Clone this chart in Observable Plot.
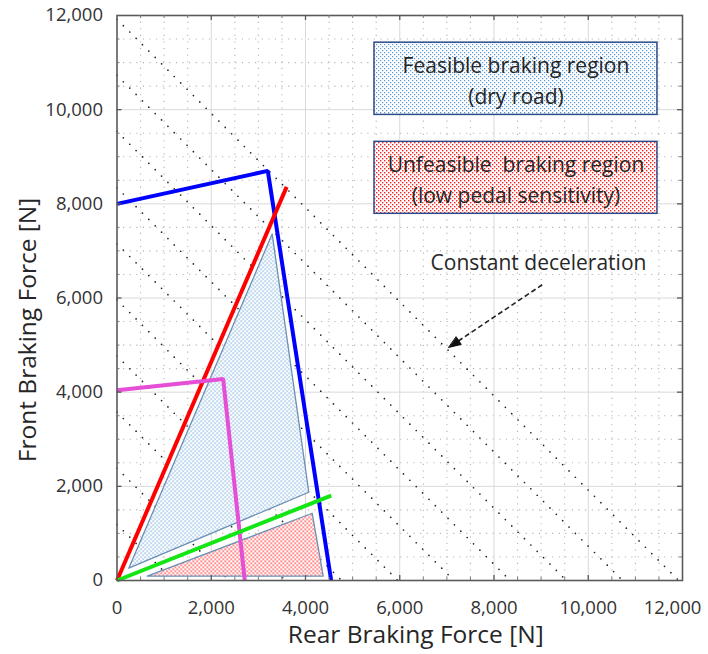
<!DOCTYPE html>
<html>
<head>
<meta charset="utf-8">
<script src="https://cdn.jsdelivr.net/npm/d3@7"></script>
<script src="https://cdn.jsdelivr.net/npm/@observablehq/plot@0.6"></script>
<style>
  body { margin: 0; background: #fff; }
  #chart svg text { white-space: pre; }
</style>
</head>
<body>
<svg width="0" height="0" style="position:absolute">
  <defs>
    <pattern id="dotsBlue" width="4" height="4" patternUnits="userSpaceOnUse">
      <rect width="4" height="4" fill="#ffffff"/>
      <rect x="0" y="0" width="1.25" height="1.25" fill="#5b9bd5"/>
      <rect x="2" y="2" width="1.25" height="1.25" fill="#5b9bd5"/>
    </pattern>
    <pattern id="dotsRed" width="4" height="4" patternUnits="userSpaceOnUse">
      <rect width="4" height="4" fill="#ffffff"/>
      <rect x="0" y="0" width="1.4" height="1.4" fill="#ff2020"/>
      <rect x="2" y="2" width="1.4" height="1.4" fill="#ff2020"/>
    </pattern>
  </defs>
</svg>
<div id="chart"></div>
<script>
// Axis ticks (N)
const axisTicks = [0, 2000, 4000, 6000, 8000, 10000, 12000];

// Constant-deceleration iso-lines: front + rear = total braking force (N)
const decelTotals = [1192, 2384, 3576, 4768, 5960, 7152, 8344, 9536, 10728, 11920];

// Brake-balance curves (rear force, front force)
const blueRear = [0, 3200, 4545];
const blueFront = [8000, 8700, 0];
const redRear = [0, 3600];
const redFront = [0, 8360];
const magentaRear = [0, 2253, 2711];
const magentaFront = [4040, 4280, 0];
const greenRear = [0, 4545];
const greenFront = [0, 1804];

// Regions
const feasibleRear = [250, 3293, 4070];
const feasibleFront = [261, 7357, 1874];
const unfeasibleRear = [641, 4142, 4376];
const unfeasibleFront = [91, 1428, 91];

// Legend boxes and their text
const boxLabels = ["Feasible braking region\n(dry road)", "Unfeasible  braking region\n(low pedal sensitivity)"];
const boxFills = ["url(#dotsBlue)", "url(#dotsRed)"];
const boxRear = [5464, 11469];
const boxFront = [[9889, 11423], [7788, 9316]];

// Annotation arrow
const noteText = "Constant deceleration";
const arrowFrom = [9023, 6281];
const arrowTo = [7041, 4951];

const W = 708, H = 654;
const mL = 116.5, mR = 26, mT = 15, mB = 74;
const unitsPerPx = 12000 / (W - mL - mR);
const thousands = d3.format(",");

const toPts = (rs, fs) => rs.map((r, i) => ({rear: r, front: fs[i]}));
const curves = [
  {pts: toPts(blueRear, blueFront), color: "#0000ff"},
  {pts: toPts(redRear, redFront), color: "#ff0000"},
  {pts: toPts(magentaRear, magentaFront), color: "#e44fd6"},
  {pts: toPts(greenRear, greenFront), color: "#14e614"}
];

const minorVals = d3.range(500, 12000, 500).filter(v => v % 2000 !== 0);
const majorInner = axisTicks.slice(1, -1);
const xLabelTicks = axisTicks.slice(0, -1);   // last label is drawn pulled in from the edge
const xEdgeTick = axisTicks.slice(-1);

const boxes = boxLabels.map((t, i) => ({
  label: t, fill: boxFills[i],
  x1: boxRear[0], x2: boxRear[1], y1: boxFront[i][0], y2: boxFront[i][1]
}));

// arrowhead triangle built from the arrow's direction
const ux = arrowTo[0] - arrowFrom[0], uy = arrowTo[1] - arrowFrom[1];
const ul = Math.hypot(ux, uy);
const dxu = ux / ul, dyu = uy / ul;
const headLen = 12 * unitsPerPx, headHalf = 4.5 * unitsPerPx;
const baseX = arrowTo[0] - dxu * headLen, baseY = arrowTo[1] - dyu * headLen;
const head = [
  {rear: arrowTo[0], front: arrowTo[1]},
  {rear: baseX - dyu * headHalf, front: baseY + dxu * headHalf},
  {rear: baseX + dyu * headHalf, front: baseY - dxu * headHalf}
];
const shaftEnd = [arrowTo[0] - dxu * headLen * 0.8, arrowTo[1] - dyu * headLen * 0.8];

const majLen = 5 * unitsPerPx, minLen = 3 * unitsPerPx;

const chart = Plot.plot({
  width: W, height: H,
  marginLeft: mL, marginRight: mR, marginTop: mT, marginBottom: mB,
  style: {fontFamily: "'Open Sans', sans-serif", fontSize: "18.5px", color: "#333", background: "#fff"},
  x: {domain: [0, 12000], ticks: xLabelTicks, tickFormat: thousands, tickSize: 0, tickPadding: 20, label: null},
  y: {domain: [0, 12000], ticks: axisTicks, tickFormat: thousands, tickSize: 0, tickPadding: 14, label: null},
  marks: [
    // minor dotted grid
    Plot.ruleX(minorVals, {stroke: "#b0b0b0", strokeWidth: 1.1, strokeDasharray: "1.1,5.5"}),
    Plot.ruleY(minorVals, {stroke: "#b0b0b0", strokeWidth: 1.1, strokeDasharray: "1.1,5.5"}),
    // major solid grid
    Plot.ruleX(majorInner, {stroke: "#d9d9d9", strokeWidth: 1}),
    Plot.ruleY(majorInner, {stroke: "#d9d9d9", strokeWidth: 1}),
    // constant deceleration lines
    Plot.link(decelTotals, {x1: 0, y1: d => d, x2: d => d, y2: 0,
      stroke: "#222", strokeWidth: 1.7, strokeDasharray: "0,9", strokeLinecap: "round"}),
    // regions
    Plot.line(toPts(feasibleRear, feasibleFront), {x: "rear", y: "front", curve: "linear-closed",
      fill: "url(#dotsBlue)", stroke: "#6c90b4", strokeWidth: 1.3}),
    Plot.line(toPts(unfeasibleRear, unfeasibleFront), {x: "rear", y: "front", curve: "linear-closed",
      fill: "url(#dotsRed)", stroke: "#6c90b4", strokeWidth: 1.3}),
    // brake balance curves
    ...curves.map(c => Plot.line(c.pts, {x: "rear", y: "front", stroke: c.color, strokeWidth: 4,
      strokeLinejoin: "miter", strokeLinecap: "butt"})),
    // frame and inward ticks
    Plot.frame({stroke: "#5a5a5a", strokeWidth: 1.6}),
    Plot.ruleX(majorInner, {y1: 0, y2: majLen, stroke: "#5a5a5a", strokeWidth: 1.3}),
    Plot.ruleX(majorInner, {y1: 12000 - majLen, y2: 12000, stroke: "#5a5a5a", strokeWidth: 1.3}),
    Plot.ruleY(majorInner, {x1: 0, x2: majLen, stroke: "#5a5a5a", strokeWidth: 1.3}),
    Plot.ruleY(majorInner, {x1: 12000 - majLen, x2: 12000, stroke: "#5a5a5a", strokeWidth: 1.3}),
    Plot.ruleX(minorVals, {y1: 0, y2: minLen, stroke: "#7a7a7a", strokeWidth: 1}),
    Plot.ruleX(minorVals, {y1: 12000 - minLen, y2: 12000, stroke: "#7a7a7a", strokeWidth: 1}),
    Plot.ruleY(minorVals, {x1: 0, x2: minLen, stroke: "#7a7a7a", strokeWidth: 1}),
    Plot.ruleY(minorVals, {x1: 12000 - minLen, x2: 12000, stroke: "#7a7a7a", strokeWidth: 1}),
    // right-most x tick label, kept inside the page
    Plot.text(xEdgeTick, {x: d => d, frameAnchor: "bottom", lineAnchor: "top", text: thousands,
      dy: 20, dx: -10, fontSize: 18.5, fill: "#333"}),
    // legend boxes
    Plot.rect(boxes, {x1: "x1", x2: "x2", y1: "y1", y2: "y2", fill: d => d.fill, stroke: "#2f4a8a", strokeWidth: 1.5}),
    Plot.text(boxes, {x: d => (d.x1 + d.x2) / 2, y: d => (d.y1 + d.y2) / 2, text: "label",
      fontSize: 21, lineHeight: 1.45, fill: "#262626"}),
    // annotation
    Plot.text([noteText], {x: 8944, y: 6748, text: d => d, fontSize: 21, fill: "#262626"}),
    Plot.link([0], {x1: arrowFrom[0], y1: arrowFrom[1], x2: shaftEnd[0], y2: shaftEnd[1],
      stroke: "#222", strokeWidth: 1.6, strokeDasharray: "5,3"}),
    Plot.line(head, {x: "rear", y: "front", curve: "linear-closed", fill: "#111", stroke: "#111", strokeWidth: 1}),
    // axis titles
    Plot.text(["Front Braking Force [N]"], {frameAnchor: "left", textAnchor: "middle", text: d => d, rotate: -90,
      dx: -89, dy: 32, fontSize: 24.5, fill: "#262626"}),
    Plot.text(["Rear Braking Force [N]"], {frameAnchor: "bottom", textAnchor: "middle", text: d => d, dy: 62, dx: 16,
      fontSize: 24.5, fill: "#262626"})
  ]
});
document.getElementById("chart").appendChild(chart);
</script>
</body>
</html>
